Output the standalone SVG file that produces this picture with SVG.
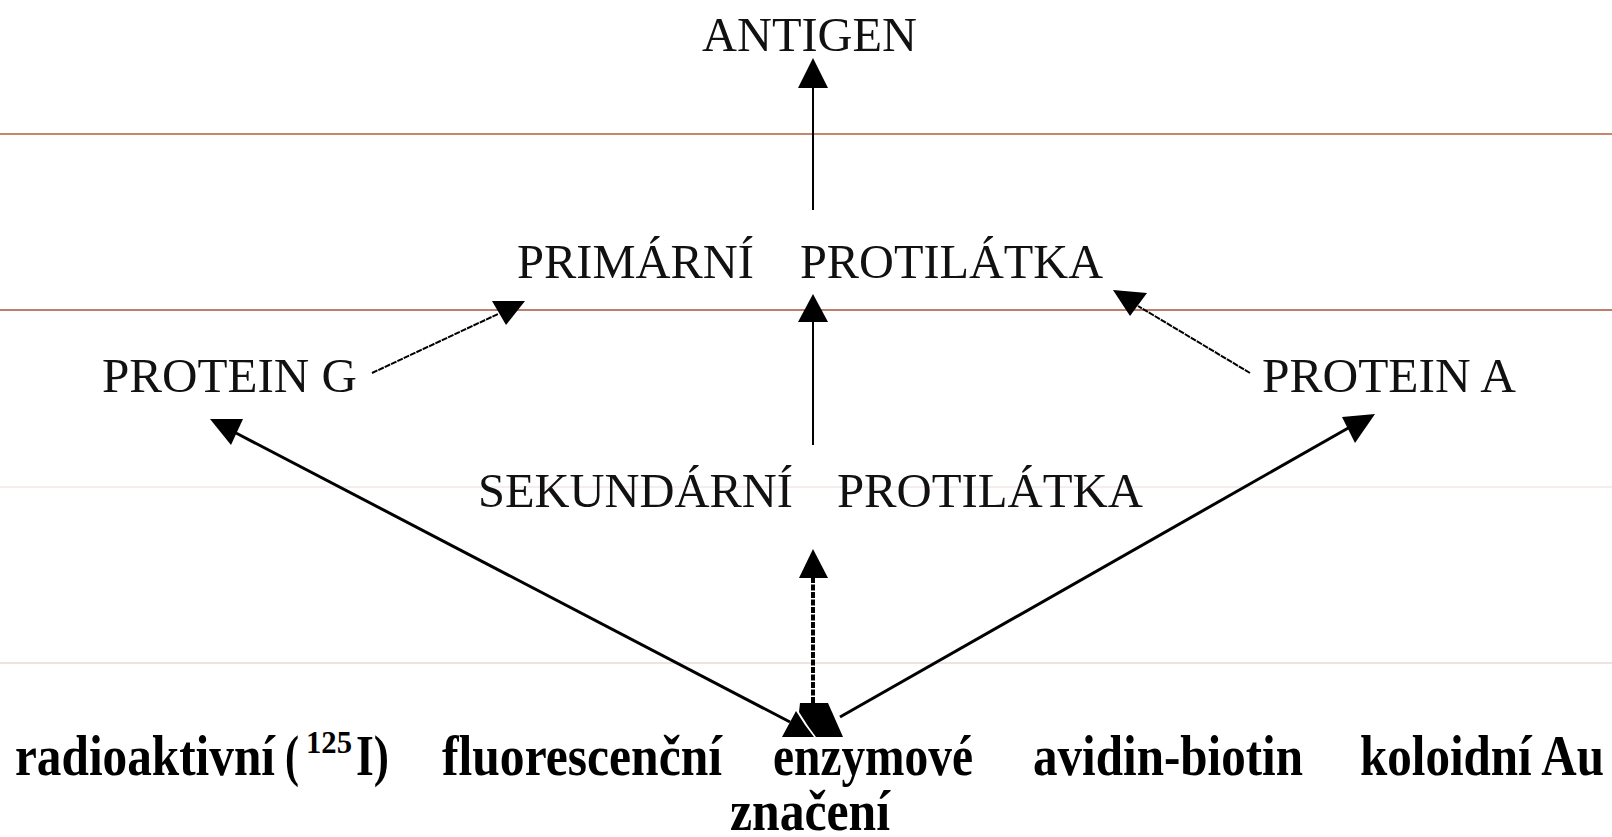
<svg xmlns="http://www.w3.org/2000/svg" width="1612" height="837" viewBox="0 0 1612 837">
<style>
.t{font-family:"Liberation Serif","Times New Roman",serif;font-size:49px;fill:#111}
.b{font-family:"Liberation Serif","Times New Roman",serif;font-size:58px;font-weight:bold;fill:#000}
.s{font-family:"Liberation Serif","Times New Roman",serif;font-size:32px;font-weight:bold;fill:#000}
.ln{stroke:#000;fill:none}
.hd{fill:#000;stroke:none}
</style>
<rect width="1612" height="837" fill="#fff"/>
<g id="rules">
<line x1="0" y1="134" x2="1612" y2="134" stroke="#b0603c" stroke-width="1.3"/>
<line x1="0" y1="310" x2="1612" y2="310" stroke="#a4553a" stroke-width="1.5"/>
<line x1="0" y1="487" x2="1612" y2="487" stroke="#eadcd6" stroke-width="1"/>
<line x1="0" y1="663" x2="1612" y2="663" stroke="#dcc8c0" stroke-width="1"/>
</g>
<g id="connectors">
<line class="ln" x1="813" y1="88" x2="813" y2="210" stroke-width="2"/>
<polygon class="hd" points="813,58 798,88 828,88"/>
<line class="ln" x1="813" y1="321" x2="813" y2="445" stroke-width="2"/>
<polygon class="hd" points="813,294 798,322 828,322"/>
<line class="ln" x1="372" y1="373" x2="498" y2="314" stroke-width="2" stroke-dasharray="6 1"/>
<polygon class="hd" points="492,301 525,301 506,325"/>
<line class="ln" x1="1250" y1="373" x2="1138" y2="306" stroke-width="2" stroke-dasharray="6 1"/>
<polygon class="hd" points="1113,290 1147,293 1130,316"/>
<line class="ln" x1="236" y1="433" x2="790" y2="722" stroke-width="3"/>
<polygon class="hd" points="210,419 243,419 231,445"/>
<line class="ln" x1="840" y1="717" x2="1350" y2="427" stroke-width="3"/>
<polygon class="hd" points="1342,417 1375,414 1355,443"/>
<line class="ln" x1="813" y1="577" x2="813" y2="703" stroke-width="4" stroke-dasharray="6 1.5"/>
<polygon class="hd" points="813,549 799,578 828,578"/>
<polygon class="hd" points="796,711 782,737 814,737 805,725"/>
<polygon class="hd" points="800,703 828,703 843,737 816,737 808,726 799,712"/>
</g>
<g id="antigen"><text class="t" x="702" y="51" textLength="215" lengthAdjust="spacingAndGlyphs">ANTIGEN</text></g>
<g id="primarni">
<text class="t" x="517" y="278" textLength="237" lengthAdjust="spacingAndGlyphs">PRIMÁRNÍ</text>
<text class="t" x="800" y="278" textLength="303" lengthAdjust="spacingAndGlyphs">PROTILÁTKA</text>
</g>
<g id="proteinG"><text class="t" x="102" y="392" textLength="255" lengthAdjust="spacingAndGlyphs">PROTEIN G</text></g>
<g id="proteinA"><text class="t" x="1262" y="392" textLength="254" lengthAdjust="spacingAndGlyphs">PROTEIN A</text></g>
<g id="sekundarni">
<text class="t" x="478" y="507" textLength="315" lengthAdjust="spacingAndGlyphs">SEKUNDÁRNÍ</text>
<text class="t" x="837" y="507" textLength="306" lengthAdjust="spacingAndGlyphs">PROTILÁTKA</text>
</g>
<g id="znaceni">
<text class="b" x="15" y="775" textLength="260" lengthAdjust="spacingAndGlyphs">radioaktivní</text>
<text class="b" x="285" y="775" textLength="14" lengthAdjust="spacingAndGlyphs">(</text>
<text class="s" x="306" y="753" textLength="46" lengthAdjust="spacingAndGlyphs">125</text>
<text class="b" x="356" y="775" textLength="33" lengthAdjust="spacingAndGlyphs">I)</text>
<text class="b" x="442" y="775" textLength="280" lengthAdjust="spacingAndGlyphs">fluorescenční</text>
<text class="b" x="773" y="775" textLength="200" lengthAdjust="spacingAndGlyphs">enzymové</text>
<text class="b" x="1033" y="775" textLength="270" lengthAdjust="spacingAndGlyphs">avidin-biotin</text>
<text class="b" x="1360" y="775" textLength="244" lengthAdjust="spacingAndGlyphs">koloidní Au</text>
<text class="b" x="730" y="830" textLength="160" lengthAdjust="spacingAndGlyphs">značení</text>
</g>
</svg>
